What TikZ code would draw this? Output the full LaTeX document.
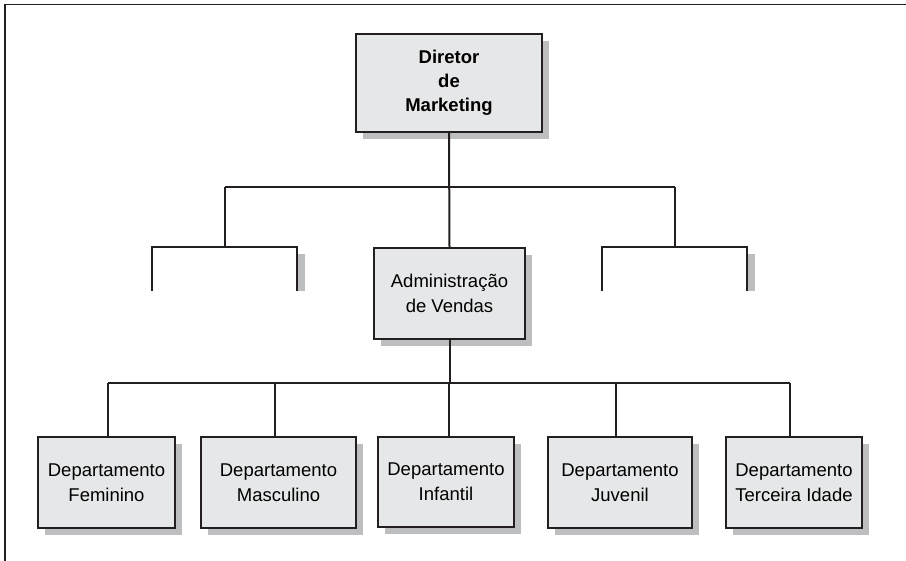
\documentclass[tikz,border=0pt]{standalone}
\usepackage{fontspec}
\setmainfont{Liberation Sans}
\usetikzlibrary{shadows}
\definecolor{boxfill}{HTML}{E6E7E8}
\definecolor{shadowc}{HTML}{BCBEC0}
\definecolor{ink}{HTML}{231F20}
\tikzset{
  orgbox/.style={draw=ink, line width=2pt, fill=boxfill, inner sep=0pt, align=center,
    font=\fontsize{18.5}{25}\selectfont,
    general shadow={fill=shadowc, shadow xshift=7pt, shadow yshift=-7pt}},
  conn/.style={draw=ink, line width=2pt},
  frameline/.style={draw=ink, line width=1.5pt},
}
\begin{document}
\begin{tikzpicture}[x=1pt,y=-1pt]
\useasboundingbox (0,0) rectangle (906,561);
% frame
\coordinate (fa) at (5,561);
\coordinate (fb) at (5,4.5);
\coordinate (fc) at (906,4.5);
\draw[frameline] (fa) -- (fb) -- (fc);

% boxes
\node[orgbox, minimum width=186pt, minimum height=98pt, font=\bfseries\fontsize{18.5}{24}\selectfont] (dir) at (449,83) {Diretor\\de\\Marketing};
\node[orgbox, minimum width=151pt, minimum height=91pt] (adm) at (449.5,293.5) {Administração\\de Vendas};
\node[orgbox, minimum width=137pt, minimum height=91pt] (fem) at (106.5,482.5) {Departamento\\Feminino};
\node[orgbox, minimum width=155pt, minimum height=91pt] (mas) at (278.5,482.5) {Departamento\\Masculino};
\node[orgbox, minimum width=136pt, minimum height=90pt] (inf) at (446,482) {Departamento\\Infantil};
\node[orgbox, minimum width=144pt, minimum height=91pt] (juv) at (620,482.5) {Departamento\\Juvenil};
\node[orgbox, minimum width=136pt, minimum height=91pt] (ter) at (794,482.5) {Departamento\\Terceira Idade};

% top connectors
\coordinate (tl) at (225,187);
\coordinate (tr) at (675,187);
\coordinate (tlb) at (225,247);
\coordinate (trb) at (675,247);
\draw[conn] (dir.south) -- (adm.north);
\draw[conn] (tl) -- (tr);
% left bracket
\coordinate (lbl) at (152,291);
\coordinate (lbr) at (297,291);
\fill[shadowc] (298,254) rectangle (305,291);
\draw[conn] (tl) -- (tlb);
\draw[conn] (lbl) -- (152,247) -- (297,247) -- (lbr);
% right bracket
\coordinate (rbl) at (602,291);
\coordinate (rbr) at (747,291);
\fill[shadowc] (748,254) rectangle (755,291);
\draw[conn] (tr) -- (trb);
\draw[conn] (rbl) -- (602,247) -- (747,247) -- (rbr);

% bottom bus
\coordinate (b1) at (108,383);
\coordinate (b2) at (275,383);
\coordinate (b3) at (449,383);
\coordinate (b4) at (616,383);
\coordinate (b5) at (790,383);
\draw[conn] (adm.south) -- (adm.south |- b3);
\draw[conn] (b1) -- (b5);
\draw[conn] (b1) -- (b1 |- fem.north);
\draw[conn] (b2) -- (b2 |- mas.north);
\draw[conn] (b3) -- (b3 |- inf.north);
\draw[conn] (b4) -- (b4 |- juv.north);
\draw[conn] (b5) -- (b5 |- ter.north);
\end{tikzpicture}
\end{document}
